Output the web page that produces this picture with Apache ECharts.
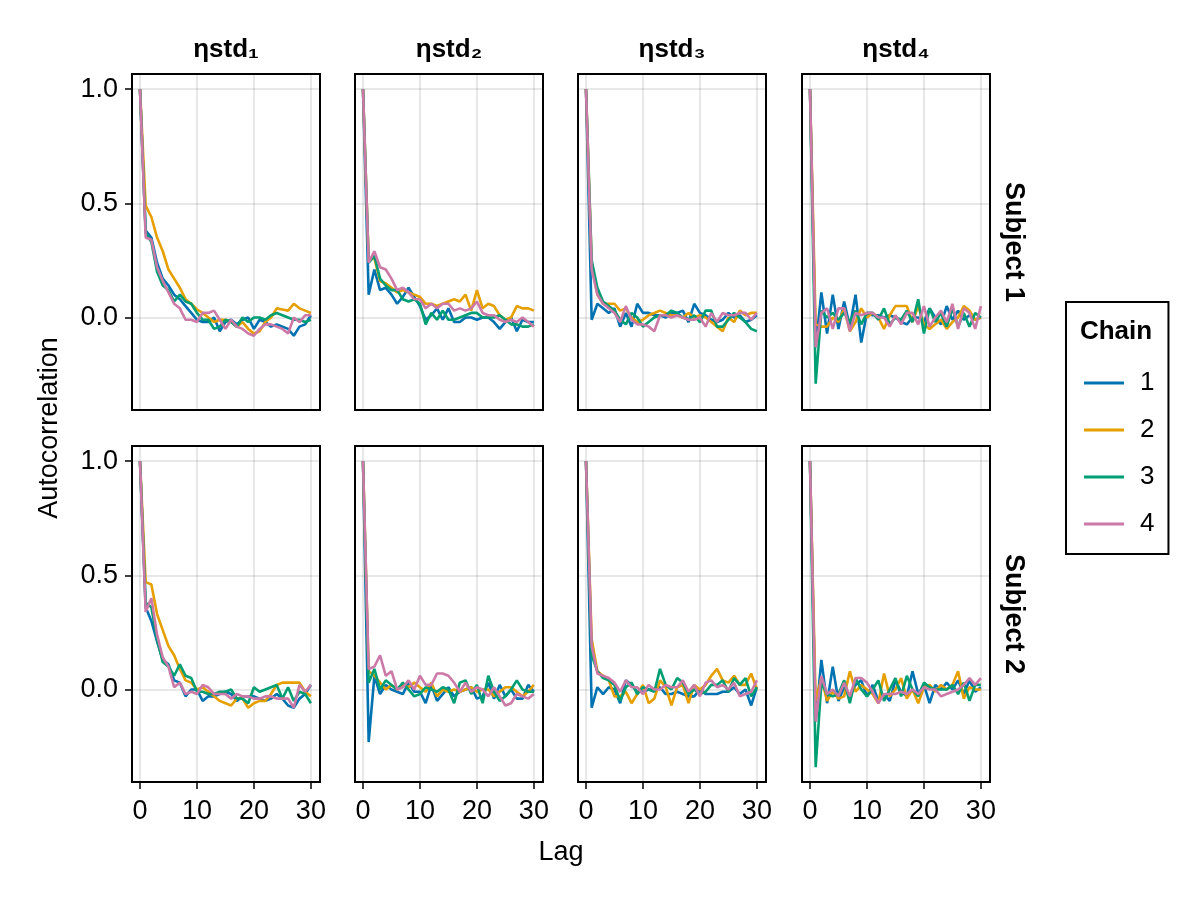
<!DOCTYPE html>
<html>
<head>
<meta charset="utf-8">
<script src="https://cdn.jsdelivr.net/npm/echarts@6/dist/echarts.min.js"></script>
<style>html,body{margin:0;padding:0;background:#fff}#c{width:1200px;height:900px}</style>
</head>
<body>
<div id="c"></div>
<script>
const lags = [0,1,2,3,4,5,6,7,8,9,10,11,12,13,14,15,16,17,18,19,20,21,22,23,24,25,26,27,28,29,30];
const chains = ['1','2','3','4'];
const params = ['ηstd₁','ηstd₂','ηstd₃','ηstd₄'];
const subjects = ['Subject 1','Subject 2'];
const yTicks = [0, 0.5, 1.0];
const xTicks = [0, 10, 20, 30];

// Subject 1
const s1_e1_c1 = [1, 0.38, 0.35, 0.24, 0.17, 0.14, 0.10, 0.08, 0.05, 0.02, -0.01, -0.02, -0.02, 0.00, -0.06, -0.02, -0.01, -0.03, -0.01, 0.00, -0.05, -0.01, -0.02, -0.04, -0.03, -0.04, -0.05, -0.08, -0.04, -0.03, 0.01];
const s1_e1_c2 = [1, 0.49, 0.44, 0.35, 0.29, 0.21, 0.17, 0.13, 0.08, 0.06, 0.035, 0.02, 0.00, -0.02, -0.01, -0.01, -0.02, -0.04, -0.02, -0.05, -0.07, -0.06, -0.02, 0.00, 0.04, 0.035, 0.03, 0.06, 0.04, 0.03, 0.02];
const s1_e1_c3 = [1, 0.37, 0.33, 0.20, 0.14, 0.12, 0.07, 0.10, 0.07, 0.06, 0.02, -0.01, -0.01, -0.05, -0.04, -0.01, -0.02, -0.04, 0.00, -0.02, 0.00, 0.00, -0.01, 0.01, 0.02, 0.01, 0.00, -0.01, -0.01, -0.02, -0.01];
const s1_e1_c4 = [1, 0.35, 0.34, 0.22, 0.16, 0.11, 0.06, 0.04, -0.01, -0.01, -0.02, 0.02, 0.02, 0.03, -0.01, -0.05, -0.01, -0.04, -0.05, -0.07, -0.08, -0.05, -0.03, -0.03, -0.04, -0.05, -0.07, 0.00, -0.02, 0.01, 0.01];

const s1_e2_c1 = [1, 0.10, 0.21, 0.12, 0.13, 0.10, 0.06, 0.09, 0.13, 0.09, 0.05, -0.01, 0.01, 0.04, -0.01, 0.04, -0.02, -0.02, 0.00, 0.00, -0.01, 0.00, 0.00, -0.02, -0.05, -0.02, 0.00, -0.06, -0.01, -0.02, -0.02];
const s1_e2_c2 = [1, 0.25, 0.26, 0.16, 0.15, 0.13, 0.11, 0.12, 0.11, 0.10, 0.09, 0.06, 0.06, 0.05, 0.06, 0.07, 0.08, 0.07, 0.10, 0.03, 0.12, 0.04, 0.06, 0.05, 0.01, -0.01, 0.00, 0.05, 0.04, 0.04, 0.03];
const s1_e2_c3 = [1, 0.24, 0.27, 0.17, 0.14, 0.12, 0.12, 0.08, 0.07, 0.08, 0.06, -0.03, 0.02, -0.01, 0.03, -0.01, -0.01, 0.00, 0.01, 0.02, 0.02, 0.00, 0.00, 0.00, 0.01, -0.01, -0.03, -0.03, -0.04, -0.04, -0.03];
const s1_e2_c4 = [1, 0.24, 0.29, 0.22, 0.21, 0.17, 0.12, 0.13, 0.11, 0.08, 0.08, 0.04, 0.06, 0.04, 0.06, 0.06, 0.03, 0.04, 0.03, 0.04, 0.07, 0.02, 0.01, 0.01, -0.01, -0.02, -0.01, -0.02, 0.00, -0.02, -0.04];

const s1_e3_c1 = [1, -0.01, 0.06, 0.04, 0.02, 0.04, -0.04, 0.02, -0.04, 0.06, 0.02, 0.02, 0.01, 0.01, 0.00, 0.02, 0.02, 0.03, -0.02, 0.06, 0.02, 0.01, -0.01, -0.02, -0.01, 0.02, 0.00, 0.01, -0.02, -0.01, 0.01];
const s1_e3_c2 = [1, 0.24, 0.10, 0.06, 0.06, 0.06, 0.03, 0.04, 0.00, -0.02, -0.01, 0.01, 0.02, 0.03, 0.02, 0.01, 0.01, 0.00, 0.02, 0.00, 0.01, 0.00, -0.02, -0.04, -0.06, 0.00, -0.02, 0.03, 0.01, 0.02, 0.02];
const s1_e3_c3 = [1, 0.25, 0.13, 0.07, 0.05, 0.03, -0.01, -0.03, 0.02, 0.00, -0.04, -0.02, 0.00, 0.01, 0.01, 0.03, 0.02, 0.00, -0.01, 0.01, -0.02, 0.03, 0.03, -0.04, -0.04, -0.01, 0.02, 0.00, -0.02, -0.05, -0.06];
const s1_e3_c4 = [1, 0.21, 0.10, 0.06, 0.04, 0.02, -0.02, 0.05, -0.01, -0.03, -0.03, -0.04, -0.06, 0.01, 0.01, 0.00, 0.01, 0.00, -0.01, -0.01, 0.00, -0.04, 0.02, -0.02, 0.02, 0.01, 0.01, 0.02, 0.02, -0.01, 0.02];

const s1_e4_c1 = [1, -0.13, 0.11, -0.07, 0.10, -0.05, 0.07, -0.04, 0.10, -0.11, 0.02, 0.01, 0.01, 0.00, 0.01, 0.00, -0.02, -0.03, 0.00, 0.00, -0.02, 0.04, 0.00, -0.03, 0.05, -0.01, 0.03, -0.01, 0.01, -0.01, 0.00];
const s1_e4_c2 = [1, -0.03, -0.04, -0.04, 0.00, -0.02, 0.04, -0.06, -0.02, 0.04, 0.00, 0.02, 0.00, -0.05, 0.01, 0.05, 0.05, 0.05, -0.02, 0.05, -0.03, -0.05, -0.03, -0.01, -0.05, -0.02, 0.00, 0.05, 0.03, -0.01, 0.00];
const s1_e4_c3 = [1, -0.29, 0.03, 0.00, 0.02, -0.01, 0.02, -0.02, 0.03, -0.03, 0.02, 0.02, -0.01, 0.04, -0.03, 0.00, -0.01, 0.03, -0.02, 0.08, -0.07, 0.04, -0.02, 0.02, -0.04, 0.04, -0.04, 0.02, -0.04, 0.02, 0.00];
const s1_e4_c4 = [1, -0.13, 0.02, 0.04, -0.05, 0.04, 0.04, -0.06, 0.02, 0.01, 0.02, 0.02, 0.00, 0.00, -0.04, 0.01, -0.03, 0.02, 0.02, -0.03, 0.05, -0.04, 0.00, 0.03, -0.02, 0.06, -0.05, 0.04, 0.02, -0.05, 0.05];

// Subject 2
const s2_e1_c1 = [1, 0.36, 0.30, 0.21, 0.13, 0.11, 0.04, 0.03, -0.03, 0.00, 0.00, -0.05, -0.03, -0.03, -0.02, -0.01, -0.02, -0.05, -0.03, -0.03, -0.03, -0.04, -0.05, -0.04, -0.02, -0.04, -0.07, -0.08, -0.04, -0.02, 0.02];
const s2_e1_c2 = [1, 0.47, 0.46, 0.33, 0.26, 0.19, 0.15, 0.09, 0.04, 0.03, 0.00, 0.01, -0.01, -0.03, -0.05, -0.06, -0.07, -0.04, -0.04, -0.08, -0.06, -0.05, -0.05, -0.02, 0.02, 0.03, 0.03, 0.03, 0.03, -0.01, -0.03];
const s2_e1_c3 = [1, 0.38, 0.36, 0.22, 0.12, 0.10, 0.06, 0.11, 0.06, 0.05, -0.01, -0.01, -0.02, -0.02, -0.01, -0.01, 0.00, -0.04, -0.04, -0.06, 0.01, -0.01, 0.00, 0.01, 0.02, -0.04, 0.01, -0.05, -0.01, -0.02, -0.06];
const s2_e1_c4 = [1, 0.34, 0.40, 0.24, 0.14, 0.10, 0.01, 0.03, -0.02, -0.01, -0.02, 0.02, 0.01, -0.02, -0.02, -0.02, -0.04, -0.02, -0.03, -0.03, -0.04, -0.04, -0.03, -0.03, -0.04, -0.04, -0.04, -0.08, 0.02, -0.01, 0.02];

const s2_e2_c1 = [1, -0.23, 0.06, -0.02, 0.02, 0.00, -0.01, -0.02, 0.03, -0.01, -0.01, -0.06, 0.02, -0.05, -0.02, 0.01, -0.03, -0.01, 0.00, 0.01, -0.04, -0.03, 0.03, -0.04, 0.02, -0.03, 0.00, -0.04, -0.04, 0.02, -0.01];
const s2_e2_c2 = [1, 0.08, 0.06, 0.03, 0.00, 0.02, 0.00, 0.02, 0.01, 0.03, 0.01, -0.01, 0.03, -0.03, 0.00, -0.01, 0.00, -0.01, 0.00, 0.01, -0.01, 0.00, 0.00, -0.03, -0.01, 0.01, 0.01, -0.01, -0.03, -0.01, 0.02];
const s2_e2_c3 = [1, 0.03, 0.09, 0.00, 0.04, 0.02, 0.00, 0.03, 0.00, -0.03, -0.02, 0.01, 0.00, -0.01, 0.01, 0.00, -0.06, 0.03, 0.04, -0.02, 0.02, -0.06, 0.06, -0.01, -0.05, -0.03, 0.00, 0.04, 0.00, -0.01, -0.01];
const s2_e2_c4 = [1, 0.09, 0.10, 0.15, 0.06, 0.08, 0.00, 0.01, 0.04, 0.00, 0.06, 0.02, 0.02, 0.07, 0.07, 0.06, 0.03, -0.01, 0.03, -0.01, 0.01, 0.00, -0.03, 0.01, -0.03, -0.07, -0.06, -0.02, -0.03, -0.04, -0.02];

const s2_e3_c1 = [1, -0.08, 0.01, -0.02, 0.01, 0.00, -0.06, 0.04, 0.02, -0.01, -0.01, 0.00, 0.00, 0.01, -0.02, -0.02, -0.01, -0.02, -0.03, -0.03, 0.00, -0.02, -0.02, -0.02, -0.01, -0.01, 0.01, -0.02, 0.00, -0.07, 0.01];
const s2_e3_c2 = [1, 0.22, 0.08, 0.06, 0.04, -0.03, -0.03, -0.01, -0.06, -0.02, 0.02, -0.06, -0.04, 0.04, 0.01, -0.07, 0.01, 0.02, -0.06, 0.02, 0.00, 0.02, 0.06, 0.09, 0.04, 0.03, 0.06, 0.02, 0.02, 0.07, 0.00];
const s2_e3_c3 = [1, 0.15, 0.08, 0.05, 0.04, 0.02, -0.05, 0.01, 0.03, -0.02, 0.01, 0.00, -0.01, 0.09, 0.02, 0.00, 0.05, 0.03, -0.02, 0.00, -0.02, -0.01, 0.02, 0.02, 0.04, -0.01, 0.05, 0.02, 0.05, -0.03, 0.01];
const s2_e3_c4 = [1, 0.19, 0.07, 0.06, 0.05, 0.03, -0.01, 0.04, 0.01, 0.01, -0.02, 0.02, 0.00, 0.00, 0.02, 0.01, 0.01, 0.04, -0.01, 0.02, -0.03, 0.03, 0.04, 0.01, 0.02, 0.00, 0.03, -0.03, -0.02, -0.01, 0.04];

const s2_e4_c1 = [1, -0.14, 0.13, -0.06, 0.10, -0.05, 0.01, -0.03, 0.02, 0.04, -0.03, 0.02, -0.05, -0.02, -0.05, 0.04, -0.01, -0.03, 0.08, -0.02, 0.02, -0.06, 0.02, 0.00, 0.03, 0.00, 0.04, -0.02, 0.04, -0.01, 0.01];
const s2_e4_c2 = [1, -0.05, 0.05, -0.05, -0.01, -0.04, -0.03, 0.08, -0.01, 0.02, 0.00, -0.02, -0.06, 0.07, -0.03, 0.00, 0.05, -0.04, 0.00, -0.06, 0.01, 0.02, -0.01, 0.02, 0.00, 0.02, 0.08, -0.04, 0.01, 0.00, 0.00];
const s2_e4_c3 = [1, -0.34, 0.03, -0.02, -0.03, -0.02, 0.04, -0.06, 0.05, 0.00, -0.03, 0.00, 0.04, -0.05, 0.00, 0.05, -0.03, 0.06, 0.00, -0.03, 0.03, 0.01, 0.00, 0.00, 0.00, 0.02, -0.02, 0.03, -0.05, 0.02, 0.02];
const s2_e4_c4 = [1, -0.14, 0.06, -0.02, 0.00, -0.03, 0.03, -0.03, 0.05, 0.05, 0.03, -0.01, -0.06, -0.02, -0.02, -0.02, -0.01, -0.02, 0.00, -0.02, 0.01, 0.00, 0.00, -0.03, -0.02, -0.01, 0.00, 0.02, 0.05, 0.02, 0.05];

const panels = [
  [[s1_e1_c1, s1_e1_c2, s1_e1_c3, s1_e1_c4], [s1_e2_c1, s1_e2_c2, s1_e2_c3, s1_e2_c4], [s1_e3_c1, s1_e3_c2, s1_e3_c3, s1_e3_c4], [s1_e4_c1, s1_e4_c2, s1_e4_c3, s1_e4_c4]],
  [[s2_e1_c1, s2_e1_c2, s2_e1_c3, s2_e1_c4], [s2_e2_c1, s2_e2_c2, s2_e2_c3, s2_e2_c4], [s2_e3_c1, s2_e3_c2, s2_e3_c3, s2_e3_c4], [s2_e4_c1, s2_e4_c2, s2_e4_c3, s2_e4_c4]]
];

const colors = ['#0072B2', '#E69F00', '#009E73', '#CC79A7'];
const FONT = '"Liberation Sans", Arial, Helvetica, sans-serif';
const colLeft = [132, 355, 578, 802];
const colW = 188;
const rowTop = [74, 446];
const rowH = 336;
const gridLineColor = 'rgba(0,0,0,0.12)';

const grid = [], xAxis = [], yAxis = [], series = [];
let gi = 0;
for (let r = 0; r < 2; r++) {
  for (let c = 0; c < 4; c++) {
    grid.push({ left: colLeft[c], top: rowTop[r], width: colW, height: rowH,
      show: true, borderColor: '#000', borderWidth: 2, backgroundColor: 'transparent' });
    const bottom = r === 1, leftCol = c === 0;
    xAxis.push({ type: 'value', gridIndex: gi, min: -1.4, max: 31.6, position: 'bottom',
      axisLine: { show: false, onZero: false },
      axisTick: { show: bottom, customValues: xTicks, length: 7, lineStyle: { color: '#000', width: 1.5 } },
      axisLabel: { show: bottom, customValues: xTicks, fontSize: 27, color: '#000', fontFamily: FONT, margin: 16 },
      splitLine: { show: true, lineStyle: { color: gridLineColor, width: 1.5 } } });
    yAxis.push({ type: 'value', gridIndex: gi, min: -0.405, max: 1.066, position: 'left',
      axisLine: { show: false, onZero: false },
      axisTick: { show: leftCol, customValues: yTicks, length: 7, lineStyle: { color: '#000', width: 1.5 } },
      axisLabel: { show: leftCol, customValues: yTicks, fontSize: 27, color: '#000', fontFamily: FONT, margin: 14,
        formatter: v => Number(v).toFixed(1) },
      splitLine: { show: true, lineStyle: { color: gridLineColor, width: 1.5 } } });
    const set = panels[r][c];
    for (let k = 0; k < 4; k++) {
      series.push({ type: 'line', name: chains[k], xAxisIndex: gi, yAxisIndex: gi,
        data: lags.map((l, i) => [l, set[k][i]]),
        symbol: 'none', showSymbol: false, silent: true, animation: false,
        lineStyle: { color: colors[k], width: 2.6 }, itemStyle: { color: colors[k] } });
    }
    gi++;
  }
}

const graphic = [];
const colTitleFont = 'bold 26px ' + FONT;
for (let c = 0; c < 4; c++) {
  graphic.push({ type: 'text', x: colLeft[c] + colW / 2, y: 50,
    style: { text: params[c], font: colTitleFont, fill: '#000', align: 'center', verticalAlign: 'middle', textAlign: 'center', textVerticalAlign: 'middle' } });
}
for (let r = 0; r < 2; r++) {
  graphic.push({ type: 'text', x: 1013, y: rowTop[r] + rowH / 2, rotation: -Math.PI / 2,
    style: { text: subjects[r], font: 'bold 27px ' + FONT, fill: '#000', align: 'center', verticalAlign: 'middle', textAlign: 'center', textVerticalAlign: 'middle' } });
}
graphic.push({ type: 'text', x: 50, y: 428, rotation: Math.PI / 2,
  style: { text: 'Autocorrelation', font: '27px ' + FONT, fill: '#000', align: 'center', verticalAlign: 'middle', textAlign: 'center', textVerticalAlign: 'middle' } });
graphic.push({ type: 'text', x: 561, y: 853,
  style: { text: 'Lag', font: '27px ' + FONT, fill: '#000', align: 'center', verticalAlign: 'middle', textAlign: 'center', textVerticalAlign: 'middle' } });
graphic.push({ type: 'text', x: 1116, y: 332,
  style: { text: 'Chain', font: 'bold 26px ' + FONT, fill: '#000', align: 'center', verticalAlign: 'middle', textAlign: 'center', textVerticalAlign: 'middle' } });

const option = {
  backgroundColor: '#fff',
  animation: false,
  grid, xAxis, yAxis, series, graphic,
  legend: {
    data: chains, orient: 'vertical', left: 1066, top: 302,
    padding: [66, 14, 15, 18], itemGap: 17, itemWidth: 40, itemHeight: 3,
    icon: 'rect', borderColor: '#000', borderWidth: 2, selectedMode: false,
    textStyle: { fontSize: 26, color: '#000', fontFamily: FONT, lineHeight: 30, padding: [0, 0, 0, 11] }
  }
};
const chart = echarts.init(document.getElementById('c'), null, { renderer: 'canvas' });
chart.setOption(option);
</script>
</body>
</html>
